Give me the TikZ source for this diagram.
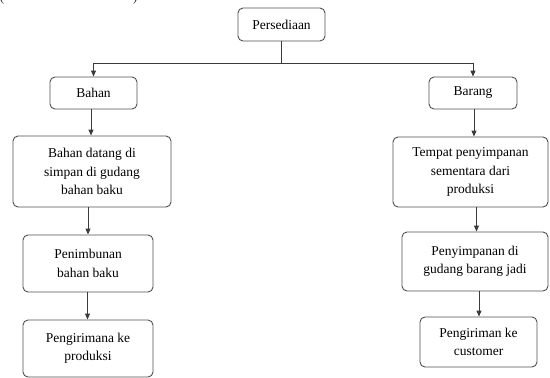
\documentclass[tikz,border=0pt]{standalone}
\usepackage{fontspec}
\setmainfont{Liberation Serif}
\usetikzlibrary{arrows.meta}
\definecolor{boxgray}{HTML}{505050}
\definecolor{linegray}{HTML}{3A3A3A}
\begin{document}
\begin{tikzpicture}[x=1pt,y=-1pt,
  box/.style={draw=boxgray, line width=0.9pt, rounded corners=5pt, fill=white,
    inner sep=0pt, align=center, text=black,
    font=\fontsize{13.5}{18.5}\selectfont},
  conn/.style={draw=linegray, line width=0.9pt},
  arr/.style={conn, -{Triangle[length=6pt,width=5pt]}},
  paren/.style={font=\fontsize{13.5}{18.5}\selectfont, inner sep=0pt, anchor=base, text=linegray}]
\useasboundingbox (0,0) rectangle (550,378);

% caption brackets cut at the top edge
\node[paren] (lp) at (2,1.5) {(};
\node[paren] (rp) at (135,1.5) {)};

% root
\node[box, minimum width=87pt, minimum height=33pt] (pers) at (281.5,24.5) {Persediaan};

% left branch: raw materials
\node[box, minimum width=87pt, minimum height=32pt] (bahan) at (93.5,93) {Bahan};
\node[box, minimum width=158pt, minimum height=71pt] (datang) at (92,171.5)
  {Bahan datang di\\simpan di gudang\\bahan baku};
\node[box, minimum width=130pt, minimum height=57pt] (timbun) at (88,263.5)
  {Penimbunan\\bahan baku};
\node[box, minimum width=130pt, minimum height=57pt] (kirimprod) at (88,348.5)
  {Pengirimana ke\\produksi};

% right branch: goods
\node[box, minimum width=88pt, minimum height=32pt] (barang) at (473,93) {Barang};
\node[box, minimum width=155pt, minimum height=70pt] (tempat) at (470.5,172)
  {Tempat penyimpanan\\sementara dari\\produksi};
\node[box, minimum width=146pt, minimum height=59pt] (simpan) at (475,261.5)
  {Penyimpanan di\\gudang barang jadi};
\node[box, minimum width=117pt, minimum height=50pt] (kirimcust) at (478.5,342)
  {Pengiriman ke\\customer};

% connectors
\coordinate (split) at (281.5,63);
\draw[conn] (pers.south) -- (split);
\draw[arr] (split) -| (bahan.north);
\draw[arr] (split) -| (barang.north);

\coordinate (l1) at (91,0);
\coordinate (l2) at (88,0);
\coordinate (l3) at (87.5,0);
\draw[arr] (l1 |- bahan.south) -- (l1 |- datang.north);
\draw[arr] (l2 |- datang.south) -- (l2 |- timbun.north);
\draw[arr] (l3 |- timbun.south) -- (l3 |- kirimprod.north);

\coordinate (r1) at (474,0);
\coordinate (r2) at (476.5,0);
\coordinate (r3) at (479,0);
\draw[arr] (r1 |- barang.south) -- (r1 |- tempat.north);
\draw[arr] (r2 |- tempat.south) -- (r2 |- simpan.north);
\draw[arr] (r3 |- simpan.south) -- (r3 |- kirimcust.north);
\end{tikzpicture}
\end{document}
